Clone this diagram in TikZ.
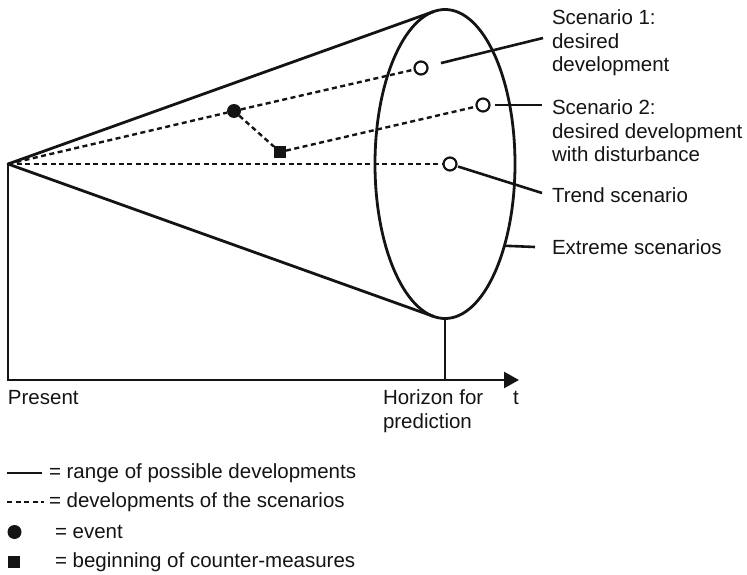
\documentclass[tikz,border=0pt]{standalone}
\usepackage{fontspec}
\setmainfont{Liberation Sans}
\usetikzlibrary{shapes.geometric,arrows.meta}
\definecolor{ink}{gray}{0.08}
\begin{document}
\begin{tikzpicture}[x=1pt,y=-1pt,
  every node/.style={font=\fontsize{20.5pt}{23.5pt}\selectfont, inner sep=0pt, outer sep=0pt, text=ink},
  rangeline/.style={draw=ink, line width=2.8pt, line join=round},
  devline/.style={draw=ink, line width=2.4pt, dash pattern=on 5pt off 3.5pt},
  callout/.style={draw=ink, line width=2.6pt},
  axisline/.style={draw=ink, line width=2.4pt, line join=miter},
  tickline/.style={draw=ink, line width=1.8pt},
  opendot/.style={circle, draw=ink, line width=2.2pt, minimum size=13pt},
  eventdot/.style={circle, fill=ink, minimum size=14pt},
  cmsquare/.style={rectangle, fill=ink, minimum size=12pt},
  lbl/.style={anchor=north west, align=left},
  legtext/.style={anchor=west},
]
\useasboundingbox (0,0) rectangle (747,575);

% horizon ellipse and cone of possible developments
\node[ellipse, rangeline, minimum width=140pt, minimum height=309pt] (hz) at (445,164) {};
\coordinate (present) at (8,164);
\coordinate (topT) at (433.8,11.5);
\coordinate (botT) at (433.8,316.5);
\draw[rangeline] (topT) -- (present) -- (botT);

% time axis
\coordinate (origin) at (8,380);
\coordinate (tend) at (519,380);
\draw[axisline, -{Triangle[length=15pt,width=16pt]}] (present) -- (origin) -- (tend);
\draw[tickline] (hz.south) -- (hz.south |- origin);

% scenario end points, event and counter-measure
\node[opendot] (s1) at (421,68) {};
\node[opendot] (s2) at (483,105) {};
\node[opendot] (tr) at (450,164) {};
\node[eventdot] (ev) at (234,111) {};
\node[cmsquare] (cm) at (280,152) {};

% developments of the scenarios
\draw[devline] (present) -- (ev);
\draw[devline] (ev) -- (s1);
\draw[devline] (ev) -- (cm);
\draw[devline] (cm) -- (s2);
\draw[devline] (present) -- (tr);

% labels on the right
\node[lbl] (l1) at (552,10) {Scenario 1:\\desired\\development};
\node[lbl] (l2) at (552,100) {Scenario 2:\\desired development\\with disturbance};
\node[lbl] (l3) at (552,188) {Trend scenario};
\node[lbl] (l4) at (552,240) {Extreme scenarios};
\coordinate (c1) at (543,38);
\coordinate (c2) at (542,105);
\coordinate (c3) at (542,193);
\coordinate (c4) at (535,247);
\draw[callout, shorten <=14pt] (s1) -- (c1);
\draw[callout, shorten <=5pt] (s2) -- (c2);
\draw[callout, shorten <=2pt] (tr) -- (c3);
\draw[callout] (hz.-54.6) -- (c4);

% axis labels
\node[lbl] (pres) at (8,390) {Present};
\node[lbl] (hor) at (383,390) {Horizon for\\prediction};
\node[lbl] (tl) at (513,391) {t};

% legend
\coordinate (g1a) at (7,473);
\coordinate (g1b) at (42,473);
\coordinate (g2a) at (7,502);
\coordinate (g2b) at (44,502);
\draw[rangeline] (g1a) -- (g1b);
\draw[devline] (g2a) -- (g2b);
\node[legtext] (t1) at (49,473) {= range of possible developments};
\node[legtext] (t2) at (49,502) {= developments of the scenarios};
\node[eventdot] (ge) at (14.5,532) {};
\node[legtext] (t3) at (55,532) {= event};
\node[cmsquare] (gc) at (14,562) {};
\node[legtext] (t4) at (55,562) {= beginning of counter-measures};
\end{tikzpicture}
\end{document}
